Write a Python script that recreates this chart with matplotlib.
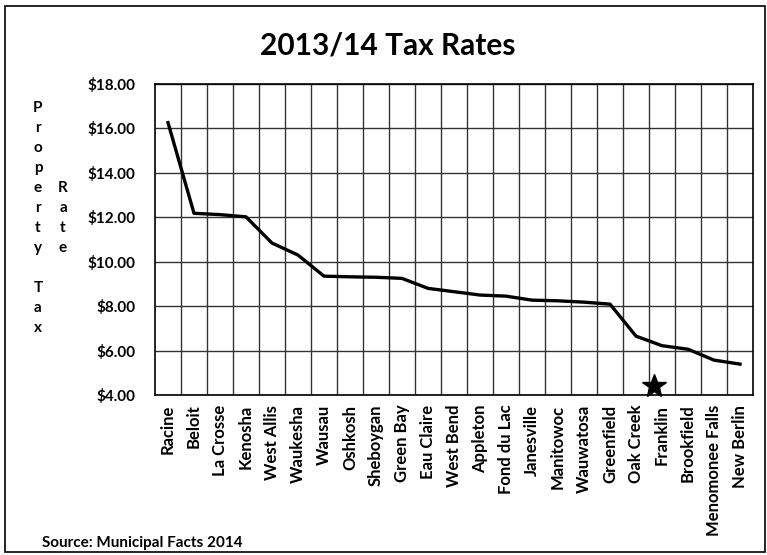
import matplotlib
matplotlib.use("Agg")
import matplotlib.pyplot as plt
from matplotlib.patches import Rectangle
from matplotlib.ticker import FuncFormatter, MultipleLocator

cities = ["Racine", "Beloit", "La Crosse", "Kenosha", "West Allis", "Waukesha",
          "Wausau", "Oshkosh", "Sheboygan", "Green Bay", "Eau Claire", "West Bend",
          "Appleton", "Fond du Lac", "Janesville", "Manitowoc", "Wauwatosa",
          "Greenfield", "Oak Creek", "Franklin", "Brookfield", "Menomonee Falls",
          "New Berlin"]
rates = [16.26, 12.18, 12.12, 12.02, 10.84, 10.30, 9.35, 9.32, 9.30, 9.25, 8.80,
         8.65, 8.50, 8.45, 8.27, 8.24, 8.18, 8.09, 6.65, 6.22, 6.06, 5.57, 5.39]
highlight = "Franklin"
title = "2013/14 Tax Rates"
source = "Source: Municipal Facts 2014"

plt.rcParams['font.family'] = ['Lato', 'DejaVu Sans']

fig = plt.figure(figsize=(7.67, 5.55), dpi=100)
ax = fig.add_axes([155/767, 1-395/555, (753-155)/767, (395-84)/555])

x = list(range(len(cities)))
ax.plot(x, rates, color='black', lw=2.4, solid_joinstyle='round')
hi = cities.index(highlight)
ax.plot([hi - 0.3], [4.4], marker='*', color='black', markersize=18, clip_on=False, zorder=5)

ax.set_xlim(-0.5, len(cities) - 0.5)
ax.set_ylim(4, 18)
ax.yaxis.set_major_locator(MultipleLocator(2))
ax.yaxis.set_major_formatter(FuncFormatter(lambda v, p: f"${v:.2f}"))
ax.set_xticks(x)
ax.set_xticklabels(cities, rotation=90, fontweight='bold', fontsize=12)
ax.set_xticks([i + 0.5 for i in x[:-1]], minor=True)
for lab in ax.get_yticklabels():
    lab.set_fontweight('bold')
    lab.set_fontsize(11)
ax.tick_params(axis='both', which='both', length=0)
ax.tick_params(axis='y', pad=14)
ax.tick_params(axis='x', pad=7)
ax.grid(True, axis='y', which='major', color='#333333', lw=1.0)
ax.grid(True, axis='x', which='minor', color='#333333', lw=1.0)
for s in ax.spines.values():
    s.set_color('black')
    s.set_linewidth(1.2)

fig.text(388/767, 1-45/555, title, ha='center', va='center', fontsize=21.5, fontweight='bold')

yl1 = "\n".join(list("Property")) + "\n \n" + "\n".join(list("Tax"))
yl2 = "\n".join(list("Rate"))
fig.text(38/767, 1-218/555, yl1, ha='center', va='center', fontsize=11, fontweight='bold', linespacing=1.55)
fig.text(63/767, 1-218/555, yl2, ha='center', va='center', fontsize=11, fontweight='bold', linespacing=1.55)

fig.text(42/767, 1-543/555, source, ha='left', va='center', fontsize=11, fontweight='bold')

fig.add_artist(Rectangle((5/767, 3/555), 760/767, 546/555, transform=fig.transFigure,
                         fill=False, edgecolor='black', lw=1.2))

fig.savefig("out.png", dpi=100)
